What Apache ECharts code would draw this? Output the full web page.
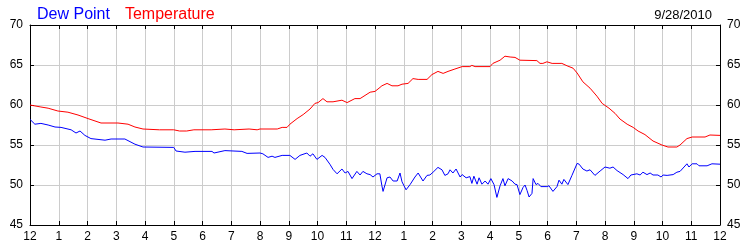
<!DOCTYPE html>
<html>
<head>
<meta charset="utf-8">
<script src="https://cdn.jsdelivr.net/npm/echarts@6/dist/echarts.min.js"></script>
<style>html,body{margin:0;padding:0;background:#fff}#c{width:750px;height:250px}</style>
</head>
<body>
<div id="c"></div>
<script>
// Hours since midnight, and readings (°F)
const hourTicks = [0,1,2,3,4,5,6,7,8,9,10,11,12,13,14,15,16,17,18,19,20,21,22,23,24];
const tickLabels = ['12','1','2','3','4','5','6','7','8','9','10','11','12','1','2','3','4','5','6','7','8','9','10','11','12'];
const yTicks = [45,50,55,60,65,70];

const tempTimes = [0.0,0.38,0.63,0.97,1.32,1.67,2.02,2.47,3.06,3.41,3.65,3.93,4.5,5.0,5.2,5.45,5.7,6.3,6.78,7.1,7.62,7.9,8.0,8.6,8.77,8.94,9.04,9.29,9.5,9.74,9.91,10.02,10.19,10.33,10.54,10.85,11.03,11.3,11.48,11.83,12.0,12.14,12.24,12.42,12.59,12.8,12.94,13.15,13.32,13.5,13.81,13.98,14.19,14.37,14.54,14.78,15.03,15.3,15.37,15.48,16.0,16.1,16.35,16.52,16.7,16.87,17.04,17.63,17.74,17.84,17.98,18.16,18.5,18.68,18.89,19.03,19.23,19.48,19.72,19.9,20.14,20.35,20.52,20.77,20.98,21.15,21.39,21.67,21.98,22.19,22.5,22.61,22.85,23.03,23.48,23.65,24.0];
const tempValues = [60.0,59.75,59.6,59.25,59.1,58.75,58.3,57.75,57.75,57.6,57.25,57.0,56.9,56.9,56.75,56.75,56.9,56.9,57.0,56.9,57.0,56.9,57.0,57.0,57.2,57.2,57.6,58.3,58.8,59.5,60.2,60.3,60.8,60.4,60.4,60.6,60.3,60.8,60.8,61.6,61.7,62.1,62.4,62.7,62.4,62.4,62.6,62.7,63.3,63.2,63.2,63.8,64.2,63.95,64.2,64.5,64.8,64.8,64.95,64.8,64.8,65.2,65.6,66.1,66.0,65.95,65.6,65.55,65.2,65.2,65.4,65.2,65.2,64.9,64.6,64.0,62.9,62.1,61.1,60.2,59.6,58.95,58.25,57.6,57.2,56.75,56.3,55.5,55.0,54.75,54.75,55.0,55.8,56.0,56.0,56.25,56.2];

const dewTimes = [0.0,0.17,0.38,0.63,0.87,1.08,1.43,1.6,1.74,1.91,2.12,2.61,2.82,3.3,3.65,3.93,5.0,5.08,5.39,5.74,6.33,6.4,6.78,7.37,7.55,8.0,8.1,8.28,8.42,8.52,8.77,9.04,9.22,9.39,9.63,9.74,9.84,9.98,10.16,10.26,10.43,10.54,10.68,10.85,10.96,11.06,11.2,11.37,11.48,11.58,11.72,11.83,11.93,12.07,12.17,12.24,12.28,12.42,12.52,12.63,12.77,12.87,12.94,13.08,13.22,13.39,13.5,13.67,13.81,13.91,14.02,14.19,14.33,14.43,14.54,14.61,14.71,14.82,14.96,15.03,15.17,15.3,15.37,15.44,15.55,15.62,15.72,15.83,15.93,16.03,16.14,16.24,16.35,16.45,16.52,16.63,16.77,16.87,16.94,17.04,17.15,17.22,17.29,17.36,17.46,17.5,17.6,17.67,17.77,17.98,18.05,18.19,18.33,18.4,18.5,18.57,18.71,18.85,19.03,19.1,19.23,19.37,19.41,19.48,19.65,19.83,20.0,20.17,20.28,20.42,20.63,20.8,20.9,21.11,21.22,21.32,21.46,21.57,21.67,21.84,21.95,22.02,22.16,22.37,22.5,22.61,22.85,22.92,23.03,23.2,23.27,23.55,23.72,24.0];
const dewValues = [58.2,57.6,57.7,57.5,57.25,57.2,56.9,56.5,56.75,56.2,55.8,55.6,55.75,55.75,55.1,54.75,54.7,54.25,54.1,54.2,54.2,54.0,54.3,54.2,53.95,54.0,53.9,53.45,53.6,53.45,53.7,53.7,53.2,53.7,54.0,53.6,53.9,53.2,53.7,53.45,52.6,51.95,51.4,52.0,51.5,51.7,50.8,51.7,51.25,51.7,51.4,51.3,51.0,51.4,51.4,49.9,49.2,50.9,51.0,50.5,50.5,51.5,50.4,49.4,50.05,51.0,51.5,50.5,51.2,51.25,51.6,52.2,51.9,51.2,51.4,51.9,51.5,52.0,51.0,51.3,50.9,51.05,50.2,51.1,50.1,50.9,50.1,50.5,50.1,50.8,50.05,48.45,49.9,50.8,49.9,50.8,50.5,50.1,50.05,48.8,49.7,50.0,49.3,48.5,48.95,50.8,50.05,50.2,49.8,49.8,49.9,49.2,49.8,50.6,50.1,50.7,50.05,51.2,52.7,52.6,52.0,51.75,51.5,51.9,51.2,51.75,52.25,52.1,52.25,51.8,51.3,50.8,51.25,51.4,51.25,51.6,51.3,51.5,51.25,51.25,51.0,51.25,51.2,51.3,51.6,51.7,52.65,52.25,52.65,52.65,52.4,52.4,52.65,52.6];

const FONT = '"Liberation Sans", Arial, sans-serif';
const pairs = (t, v) => t.map((x, i) => [x, v[i]]);

const chart = echarts.init(document.getElementById('c'), null, {renderer: 'canvas'});
const tickStyle = {show: true, inside: true, length: 4, lineStyle: {color: '#000', width: 1}};
chart.setOption({
  animation: false,
  backgroundColor: '#fff',
  title: [
    {
      left: 32, top: 1,
      text: '{a|Dew Point}   {b|Temperature}',
      textStyle: {
        fontWeight: 'normal',
        rich: {
          a: {color: '#0000ff', fontSize: 16, fontWeight: 'normal', fontFamily: FONT},
          b: {color: '#ff0000', fontSize: 16, fontWeight: 'normal', fontFamily: FONT}
        }
      }
    },
    {
      right: 33, top: 4,
      text: '9/28/2010',
      textStyle: {color: '#000', fontSize: 13, fontWeight: 'normal', fontFamily: FONT}
    }
  ],
  grid: {left: 30, right: 30, top: 25, bottom: 25, containLabel: false},
  xAxis: [
    {
      type: 'value', position: 'bottom',
      min: hourTicks[0], max: hourTicks[hourTicks.length - 1], interval: 1,
      axisLine: {show: true, onZero: false, lineStyle: {color: '#000', width: 1}},
      axisTick: tickStyle,
      axisLabel: {
        fontSize: 12, color: '#000', fontFamily: FONT, margin: 6,
        formatter: v => tickLabels[hourTicks.indexOf(v)]
      },
      splitLine: {show: true, lineStyle: {color: '#cccccc', width: 1}}
    },
    {
      type: 'value', position: 'top',
      min: hourTicks[0], max: hourTicks[hourTicks.length - 1], interval: 1,
      axisLine: {show: true, onZero: false, lineStyle: {color: '#000', width: 1}},
      axisTick: tickStyle,
      axisLabel: {show: false},
      splitLine: {show: false}
    }
  ],
  yAxis: [
    {
      type: 'value', position: 'left',
      min: yTicks[0], max: yTicks[yTicks.length - 1], interval: 5,
      axisLine: {show: true, onZero: false, lineStyle: {color: '#000', width: 1}},
      axisTick: tickStyle,
      axisLabel: {fontSize: 12, color: '#000', fontFamily: FONT, margin: 7},
      splitLine: {show: true, lineStyle: {color: '#cccccc', width: 1}}
    },
    {
      type: 'value', position: 'right',
      min: yTicks[0], max: yTicks[yTicks.length - 1], interval: 5,
      axisLine: {show: true, onZero: false, lineStyle: {color: '#000', width: 1}},
      axisTick: tickStyle,
      axisLabel: {fontSize: 12, color: '#000', fontFamily: FONT, margin: 7},
      splitLine: {show: false}
    }
  ],
  series: [
    {
      name: 'Temperature', type: 'line', xAxisIndex: 0, yAxisIndex: 0,
      data: pairs(tempTimes, tempValues),
      showSymbol: false, symbol: 'none',
      lineStyle: {color: '#ff0000', width: 1}
    },
    {
      name: 'Dew Point', type: 'line', xAxisIndex: 0, yAxisIndex: 0,
      data: pairs(dewTimes, dewValues),
      showSymbol: false, symbol: 'none',
      lineStyle: {color: '#0000ff', width: 1}
    }
  ]
});
</script>
</body>
</html>
